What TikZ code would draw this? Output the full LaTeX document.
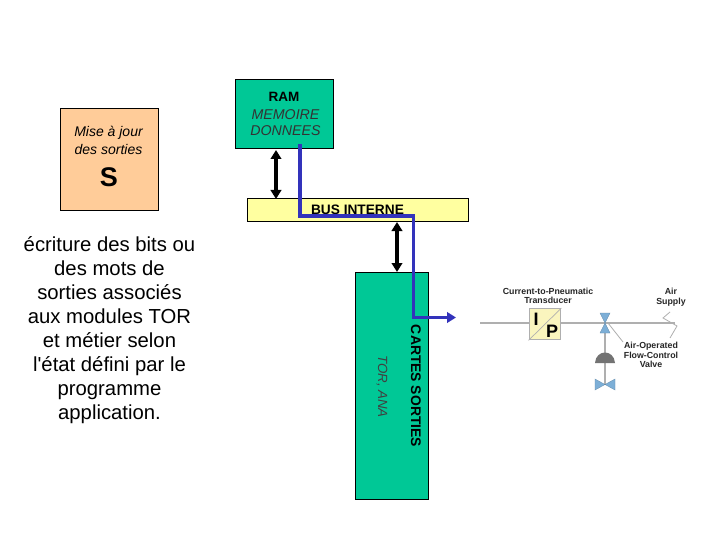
\documentclass[tikz,border=0pt]{standalone}
\usepackage{fontspec}
\setmainfont{Liberation Sans}[Ligatures=TeXOff]
\usetikzlibrary{arrows.meta}
\definecolor{grn}{RGB}{0,200,150}
\definecolor{yel}{RGB}{255,255,160}
\definecolor{org}{RGB}{255,204,153}
\definecolor{blu}{RGB}{51,51,187}
\definecolor{icoy}{RGB}{250,245,190}
\definecolor{vlv}{RGB}{125,175,215}
\definecolor{gry}{RGB}{175,175,175}
\tikzset{
 x=1pt,y=-1pt,
 boxx/.style={draw=black,line width=0.7pt,minimum width=#1,inner sep=0pt,anchor=north west},
 dbl/.style={{Triangle[length=9pt,width=10.5pt]}-{Triangle[length=9pt,width=10.5pt]},line width=3.6pt,black},
 busline/.style={blu,line width=3.5pt,line join=miter},
 busarrow/.style={blu,line width=3.5pt,-{Triangle[length=9pt,width=10.5pt]}},
 lbl/.style={inner sep=0pt,align=center},
 tiny/.style={inner sep=0pt,align=center,font=\fontsize{8.8}{9.6}\selectfont\bfseries,text=black!85},
 pipe/.style={gry,line width=1.3pt},
 valve/.style={fill=vlv,draw=vlv!80!black,line width=0.3pt},
}
\begin{document}
\begin{tikzpicture}
\useasboundingbox[fill=white] (0,0) rectangle (720,540);
% boxes
\node[boxx=98pt,minimum height=102pt,fill=org] (sbox) at (60,108) {};
\node[boxx=98pt,minimum height=69pt,fill=grn] (ram) at (235,79) {};
\node[boxx=221pt,minimum height=23pt,fill=yel] (bus) at (247,198) {};
\node[boxx=73pt,minimum height=227pt,fill=grn] (cartes) at (355,272) {};
% texts
\node[lbl,font=\fontsize{14}{17.5}\selectfont\itshape] (t1) at (108.5,140.5) {Mise à jour\\des sorties};
\node[lbl,font=\fontsize{27}{29}\selectfont\bfseries] (t2) at (109,177) {S};
\node[lbl,font=\fontsize{13.5}{15}\selectfont\bfseries] (t3) at (284,97) {RAM};
\node[lbl,text=black!80,font=\fontsize{14.2}{16}\selectfont\itshape] (t4) at (285.5,122.5) {MEMOIRE\\DONNEES};
\node[lbl,font=\fontsize{13.7}{15}\selectfont\bfseries] (t5) at (357.5,210) {BUS INTERNE};
\node[lbl,font=\fontsize{20.3}{24}\selectfont] (t6) at (109.5,330.5) {écriture des bits ou\\des mots de\\sorties associés\\aux modules TOR\\et métier selon\\l'état défini par le\\programme\\application.};
\node[lbl,rotate=-90,font=\fontsize{13.9}{15}\selectfont\bfseries] (t7) at (416,386) {CARTES SORTIES};
\node[lbl,rotate=-90,text=black!75,font=\fontsize{13.3}{15}\selectfont\itshape] (t8) at (382,386.5) {TOR, ANA};
% connectors
\coordinate (r1) at (276,150);
\coordinate (r2) at (276,199);
\coordinate (b1) at (397,222);
\coordinate (b2) at (397,272);
\draw[dbl] (r1) -- (r2);
\draw[dbl] (b1) -- (b2);
\coordinate (p0) at (300,144);
\coordinate (p1) at (300,216);
\coordinate (p2) at (413.5,216);
\coordinate (p3) at (413.5,317.5);
\coordinate (p4) at (456,317.5);
\draw[busline] (p0) -- (p1) -- (p2) -- (p3) -- (448,317.5);
\draw[busarrow] (p3) -- (p4);
% transducer illustration
\coordinate (pa) at (480,323);
\coordinate (pb) at (675,323);
\draw[pipe] (pa) -- (pb);
\draw[pipe] (605,323) -- (605,385);
\draw[gry,line width=0.8pt] (670,312) -- (663,318) -- (677,326) -- (670,338);
\draw[gry,line width=0.8pt] (608,323) -- (623,342);
\node[boxx=31.5pt,minimum height=31pt,fill=icoy,draw=gry,line width=1.4pt] (ip) at (528.5,308) {};
\draw[gry,line width=0.7pt] (ip.south west) -- (ip.north east);
\node[lbl,font=\fontsize{18}{18}\selectfont\bfseries] (i) at (536,319) {I};
\node[lbl,font=\fontsize{18}{18}\selectfont\bfseries] (pp) at (552,331) {P};
\path[valve] (600,313) -- (610,313) -- (605,323) -- cycle;
\path[valve] (600,333) -- (610,333) -- (605,323) -- cycle;
\path[fill=black!55] (595,363) .. controls (596,349) and (614,349) .. (615,363) -- cycle;
\path[valve] (595,379) -- (595,390) -- (605,384.5) -- cycle;
\path[valve] (615,379) -- (615,390) -- (605,384.5) -- cycle;
\node[tiny] (l1) at (548,296) {Current-to-Pneumatic\\Transducer};
\node[tiny] (l2) at (671,297) {Air\\Supply};
\node[tiny] (l3) at (651,355) {Air-Operated\\Flow-Control\\Valve};
\end{tikzpicture}
\end{document}
